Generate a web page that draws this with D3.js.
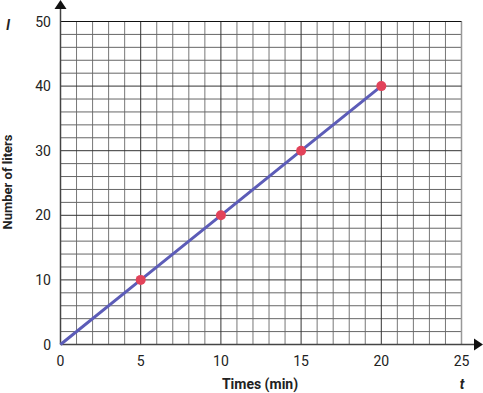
<!DOCTYPE html>
<html><head><meta charset="utf-8">
<script src="https://cdn.jsdelivr.net/npm/d3@7"></script>
<style>body{margin:0;background:#fff}svg{display:block;font-family:Roboto,"Noto Sans",sans-serif}</style>
</head><body>
<svg id="c" width="483" height="393"></svg>
<script>
const xTicks = [0, 5, 10, 15, 20, 25];
const yTicks = [0, 10, 20, 30, 40, 50];
const timeMin = [0, 5, 10, 15, 20];
const liters = [0, 10, 20, 30, 40];
const pointTimes = [5, 10, 15, 20];
const pointLiters = [10, 20, 30, 40];

const svg = d3.select("#c");
const x = d3.scaleLinear().domain([0, 25]).range([60.5, 461.5]);
const y = d3.scaleLinear().domain([0, 50]).range([344.5, 21.5]);

const g = svg.append("g");
// minor vertical
d3.range(1, 26).filter(v => v % 5 !== 0).forEach(v => {
  g.append("line").attr("x1", x(v)).attr("x2", x(v)).attr("y1", y(0)).attr("y2", y(50))
    .attr("stroke", "#777").attr("stroke-width", 1);
});
// minor horizontal
d3.range(2, 50, 2).filter(v => v % 10 !== 0).forEach(v => {
  g.append("line").attr("x1", x(0)).attr("x2", x(25)).attr("y1", y(v)).attr("y2", y(v))
    .attr("stroke", "#666").attr("stroke-width", 1);
});
// major
xTicks.slice(1).forEach(v => {
  g.append("line").attr("x1", x(v)).attr("x2", x(v)).attr("y1", y(0)).attr("y2", y(50))
    .attr("stroke", v === 25 ? "#999" : "#333").attr("stroke-width", v === 25 ? 1.5 : 1);
});
yTicks.slice(1).forEach(v => {
  g.append("line").attr("x1", x(0)).attr("x2", x(25)).attr("y1", y(v)).attr("y2", y(v))
    .attr("stroke", v === 50 ? "#111" : "#333").attr("stroke-width", 1);
});

// axes
svg.append("line").attr("x1", x(0)).attr("x2", x(0)).attr("y1", y(0)).attr("y2", 8)
  .attr("stroke", "#444").attr("stroke-width", 1.5);
svg.append("path").attr("d", `M${x(0)-6},9 L${x(0)},0 L${x(0)+6},9 Z`).attr("fill", "#111");
svg.append("line").attr("x1", x(0)).attr("x2", 474).attr("y1", y(0)).attr("y2", y(0))
  .attr("stroke", "#444").attr("stroke-width", 1.5);
svg.append("path").attr("d", `M474,${y(0)-6} L483,${y(0)} L474,${y(0)+6} Z`).attr("fill", "#111");

// tick labels
svg.selectAll(".xt").data(xTicks).enter().append("text")
  .attr("x", d => x(d)).attr("y", 366).attr("text-anchor", "middle")
  .attr("font-size", 14).attr("fill", "#222").text(d => d);
svg.selectAll(".yt").data(yTicks).enter().append("text")
  .attr("x", 51).attr("y", d => y(d) + 5).attr("text-anchor", "end")
  .attr("font-size", 14).attr("fill", "#222").text(d => d);

// titles
svg.append("text").attr("x", 260).attr("y", 389).attr("text-anchor", "middle")
  .attr("font-size", 14).attr("font-weight", "bold").attr("fill", "#222").text("Times (min)");
svg.append("text").attr("x", 462).attr("y", 389).attr("text-anchor", "middle")
  .attr("font-size", 14).attr("font-weight", "bold").attr("font-style", "italic").attr("fill", "#222").text("t");
svg.append("text").attr("transform", "translate(12,182) rotate(-90)").attr("text-anchor", "middle")
  .attr("font-size", 13).attr("font-weight", "bold").attr("fill", "#222").text("Number of liters");
svg.append("text").attr("x", 8).attr("y", 30).attr("text-anchor", "middle")
  .attr("font-size", 14).attr("font-weight", "bold").attr("font-style", "italic").attr("fill", "#222").text("l");

// line
const line = d3.line().x((d, i) => x(timeMin[i])).y((d, i) => y(liters[i]));
svg.append("path").datum(liters).attr("d", line).attr("fill", "none")
  .attr("stroke", "#5c5cb8").attr("stroke-width", 3);

svg.selectAll(".pt").data(pointTimes).enter().append("circle")
  .attr("cx", d => x(d)).attr("cy", (d, i) => y(pointLiters[i])).attr("r", 5)
  .attr("fill", "#e2435a");
</script>
</body></html>
